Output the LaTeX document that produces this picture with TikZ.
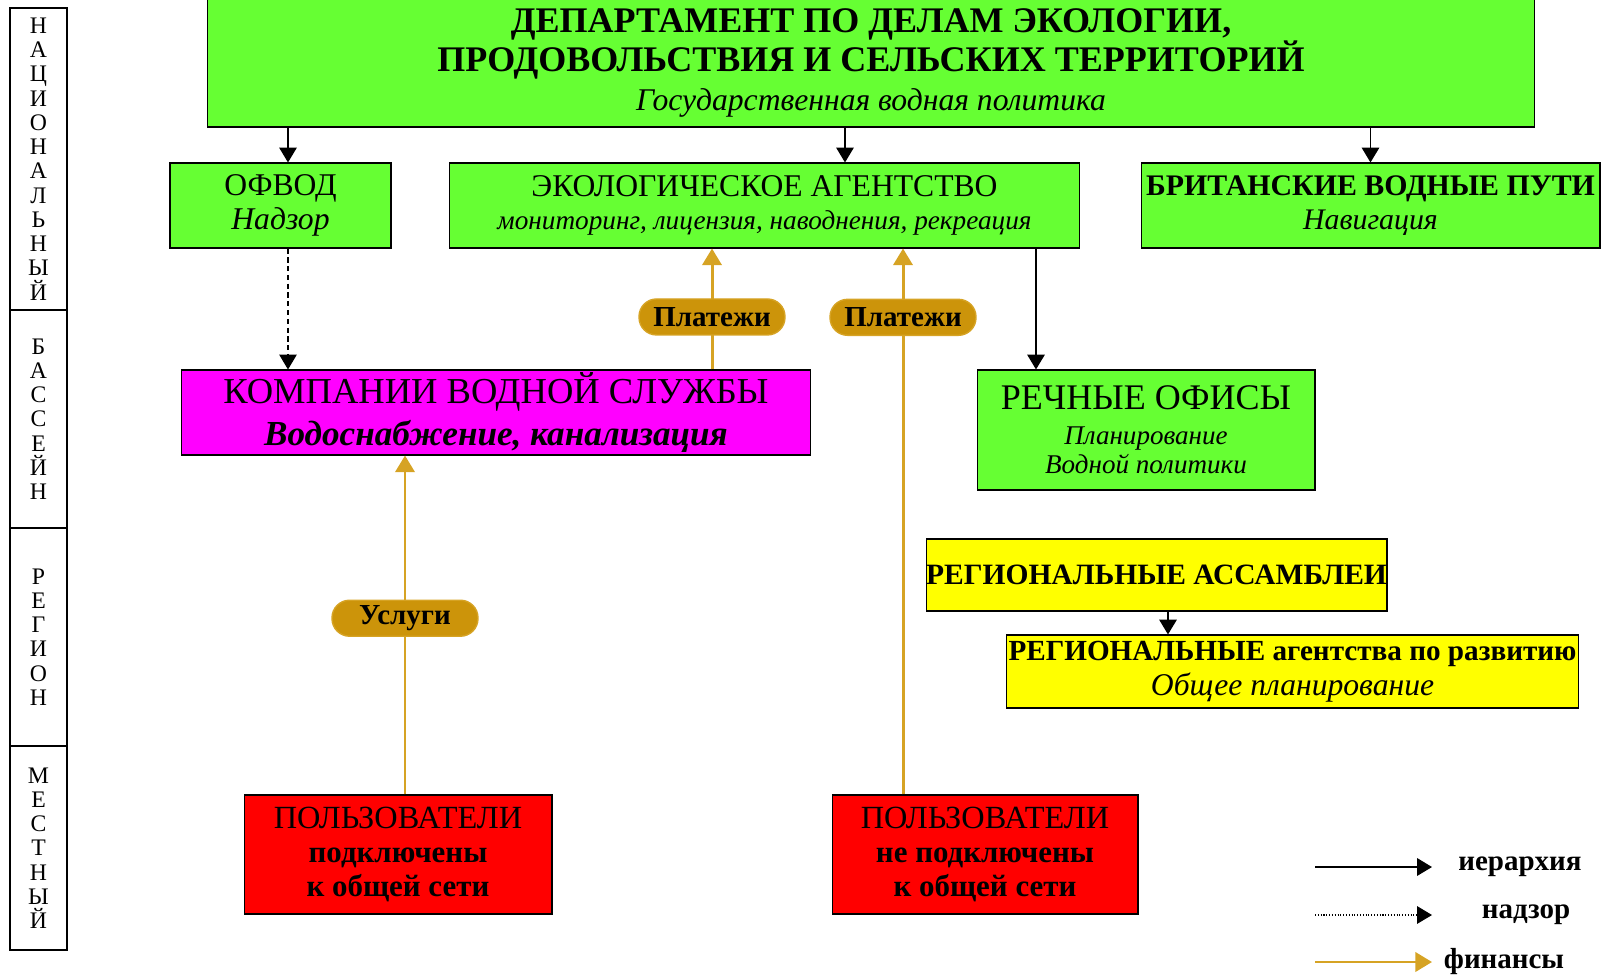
\documentclass[tikz,border=0pt]{standalone}
\usepackage{fontspec}
\setmainfont{Liberation Serif}
\usetikzlibrary{arrows.meta}
\definecolor{boxgreen}{rgb}{0.40,1.0,0.20}
\definecolor{boxmagenta}{rgb}{1.0,0.0,1.0}
\definecolor{boxred}{rgb}{1.0,0.0,0.0}
\definecolor{boxyellow}{rgb}{1.0,1.0,0.0}
\definecolor{gold}{rgb}{0.84,0.64,0.14}
\definecolor{paygold}{rgb}{0.80,0.58,0.04}

\tikzset{
  orgbox/.style={draw, line width=0.6pt, inner sep=0pt, align=center},
  tierbox/.style={draw, line width=0.8pt, minimum width=1.14cm, inner sep=0pt, align=center, font=\fontsize{13.5}{13.8}\selectfont},
  paybox/.style={draw, line width=0.8pt, fill=paygold, rounded corners=10pt, minimum width=2.92cm, minimum height=0.72cm, inner sep=0pt, font=\fontsize{16.5}{16.5}\selectfont\bfseries, text=black},
  hier/.style={-{Triangle[length=8.5pt,width=10pt]}, line width=0.8pt},
  superv/.style={-{Triangle[length=8.5pt,width=10pt]}, line width=0.6pt, densely dashed},
  fin/.style={-{Triangle[length=9.5pt,width=11pt]}, line width=1.7pt, gold}
}

\begin{document}
\begin{tikzpicture}[x=0.02cm, y=-0.02cm]
\useasboundingbox (0,0) rectangle (1602,979);

% levels on the left
\node [tierbox, minimum height=6.04cm] (nat) at (38.5,159) {Н\\А\\Ц\\И\\О\\Н\\А\\Л\\Ь\\Н\\Ы\\Й};
\node [tierbox, minimum height=4.36cm] (bas) at (38.5,419) {Б\\А\\С\\С\\Е\\Й\\Н};
\node [tierbox, minimum height=4.36cm] (reg) at (38.5,637) {Р\\Е\\Г\\И\\О\\Н};
\node [tierbox, minimum height=4.08cm] (loc) at (38.5,848) {М\\Е\\С\\Т\\Н\\Ы\\Й};

% boxes
\node [orgbox, fill=boxgreen, minimum width=26.56cm, minimum height=2.56cm, font=\fontsize{18}{22}\selectfont] (dept) at (871,63)
  {{\fontsize{20.5}{22.5}\selectfont\bfseries ДЕПАРТАМЕНТ ПО ДЕЛАМ ЭКОЛОГИИ,}\\ {\fontsize{20.5}{22.5}\selectfont\bfseries ПРОДОВОЛЬСТВИЯ И СЕЛЬСКИХ ТЕРРИТОРИЙ}\\ \textit{Государственная водная политика}};
\node [orgbox, fill=boxgreen, minimum width=4.42cm, minimum height=1.70cm, font=\fontsize{18}{19}\selectfont] (ofvod) at (280.5,205.5)
  {ОФВОД\\ \textit{Надзор}};
\node [orgbox, fill=boxgreen, minimum width=12.62cm, minimum height=1.70cm, font=\fontsize{18}{19}\selectfont] (eco) at (764.5,205.5)
  {ЭКОЛОГИЧЕСКОЕ АГЕНТСТВО\\ {\fontsize{15.5}{19}\selectfont\itshape мониторинг, лицензия, наводнения, рекреация}};
\node [orgbox, fill=boxgreen, minimum width=9.18cm, minimum height=1.70cm, font=\fontsize{17}{19}\selectfont] (brit) at (1370.5,205.5)
  {\textbf{БРИТАНСКИЕ ВОДНЫЕ ПУТИ}\\ \textit{Навигация}};
\node [orgbox, fill=boxmagenta, minimum width=12.6cm, minimum height=1.70cm, font=\fontsize{20.8}{24}\selectfont] (comp) at (496,412.5)
  {КОМПАНИИ ВОДНОЙ СЛУЖБЫ\\ {\fontsize{20}{24}\selectfont\bfseries\itshape Водоснабжение, канализация}};
\node [orgbox, fill=boxgreen, minimum width=6.76cm, minimum height=2.40cm, font=\fontsize{20.5}{20}\selectfont] (river) at (1146,430)
  {РЕЧНЫЕ ОФИСЫ\\ {\fontsize{15.4}{16}\selectfont\itshape Планирование}\\[-3.5pt] {\fontsize{15.4}{16}\selectfont\itshape Водной политики}};
\node [orgbox, fill=boxyellow, minimum width=9.22cm, minimum height=1.44cm, font=\fontsize{16.8}{19}\selectfont\bfseries] (assem) at (1156.5,575)
  {РЕГИОНАЛЬНЫЕ АССАМБЛЕИ};
\node [orgbox, fill=boxyellow, minimum width=11.46cm, minimum height=1.46cm, font=\fontsize{16.6}{20}\selectfont] (agency) at (1292.5,671.5)
  {\textbf{РЕГИОНАЛЬНЫЕ агентства по развитию}\\ {\fontsize{18}{20}\selectfont\itshape Общее планирование}};
\node [orgbox, fill=boxred, minimum width=6.16cm, minimum height=2.38cm, font=\fontsize{18.4}{19.5}\selectfont] (users) at (398,854.5)
  {ПОЛЬЗОВАТЕЛИ\\ {\fontsize{17.6}{19}\selectfont\bfseries подключены}\\ {\fontsize{17.6}{19}\selectfont\bfseries к общей сети}};
\node [orgbox, fill=boxred, minimum width=6.12cm, minimum height=2.38cm, font=\fontsize{18.4}{19.5}\selectfont] (nonusers) at (985,854.5)
  {ПОЛЬЗОВАТЕЛИ\\ {\fontsize{17.6}{19}\selectfont\bfseries не подключены}\\ {\fontsize{17.6}{19}\selectfont\bfseries к общей сети}};

% columns of the connectors
\coordinate (xofvod) at (288,0);
\coordinate (xeco) at (845,0);
\coordinate (xpay) at (712,0);
\coordinate (xnon) at (903,0);
\coordinate (xusers) at (405,0);
\coordinate (xriver) at (1036,0);
\coordinate (xassem) at (1168,0);

% hierarchy
\draw [hier] (dept.south -| xofvod) -- (ofvod.north -| xofvod);
\draw [hier] (dept.south -| xeco) -- (eco.north -| xeco);
\draw [hier] (dept.south -| brit.north) -- (brit.north);
\draw [hier] (eco.south -| xriver) -- (river.north -| xriver);
\draw [hier] (assem.south -| xassem) -- (agency.north -| xassem);
\draw [superv] (ofvod.south -| xofvod) -- (comp.north -| xofvod);

% finances
\draw [fin] (comp.north -| xpay) -- node [paybox, pos=0.434] (pay1) {Платежи} (eco.south -| xpay);
\draw [fin] (nonusers.north -| xnon) -- node [paybox, pos=0.874] (pay2) {Платежи} (eco.south -| xnon);
\draw [fin] (users.north -| xusers) -- node [paybox, pos=0.52] (serv) {Услуги} (comp.south -| xusers);

% legend
\coordinate (lega) at (1315,867);
\coordinate (legb) at (1432,867);
\coordinate (legc) at (1315,915);
\coordinate (legd) at (1432,915);
\coordinate (lege) at (1315,962);
\coordinate (legf) at (1432,962);
\draw [hier] (lega) -- (legb);
\draw [superv, densely dotted] (legc) -- (legd);
\draw [fin] (lege) -- (legf);
\node [font=\fontsize{16.5}{16.5}\selectfont\bfseries] (leghier) at (1520,867) {иерархия};
\node [font=\fontsize{16.5}{16.5}\selectfont\bfseries] (legsup) at (1526,915) {надзор};
\node [font=\fontsize{16.5}{16.5}\selectfont\bfseries] (legfin) at (1504,962) {финансы};
\end{tikzpicture}
\end{document}
